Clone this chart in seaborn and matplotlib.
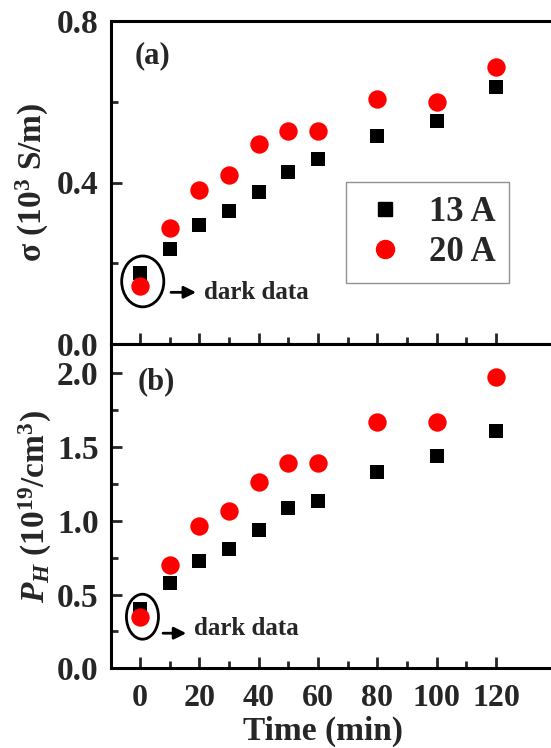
import matplotlib
matplotlib.use("Agg")
import matplotlib.pyplot as plt
import seaborn as sns
import pandas as pd
from matplotlib.patches import Ellipse
from matplotlib.lines import Line2D
from matplotlib.ticker import MultipleLocator, FixedLocator, FormatStrFormatter

time = [0, 10, 20, 30, 40, 50, 60, 80, 100, 120]
sigma_13 = [0.177, 0.235, 0.294, 0.329, 0.376, 0.426, 0.457, 0.515, 0.552, 0.636]
sigma_20 = [0.144, 0.288, 0.381, 0.419, 0.495, 0.528, 0.528, 0.606, 0.599, 0.686]
ph_13 = [0.40, 0.576, 0.730, 0.809, 0.938, 1.089, 1.134, 1.331, 1.439, 1.609]
ph_20 = [0.35, 0.698, 0.965, 1.069, 1.265, 1.390, 1.392, 1.672, 1.672, 1.973]
series = ["13 A", "20 A"]
x_major = [0, 20, 40, 60, 80, 100, 120]
x_minor = [10, 30, 50, 70, 90, 110]

sns.set_theme(style="white")
plt.rcParams["font.family"] = ["Liberation Serif", "DejaVu Serif"]
plt.rcParams["font.weight"] = "bold"
plt.rcParams["mathtext.fontset"] = "custom"
plt.rcParams["mathtext.rm"] = "Liberation Serif:bold"
plt.rcParams["mathtext.bf"] = "Liberation Serif:bold"
plt.rcParams["mathtext.it"] = "Liberation Serif:bold:italic"

W, H = 551, 748
fig = plt.figure(figsize=(W / 100, H / 100), dpi=100)
ax_left, ax_right = 111, 562
def fbox(top, bottom):
    return [ax_left / W, 1 - bottom / H, (ax_right - ax_left) / W, (bottom - top) / H]

ax1 = fig.add_axes(fbox(21, 344))
ax2 = fig.add_axes(fbox(344, 668.3))

df1 = pd.DataFrame({"t": time * 2, "v": sigma_13 + sigma_20,
                    "s": [series[0]] * len(time) + [series[1]] * len(time)})
df2 = pd.DataFrame({"t": time * 2, "v": ph_13 + ph_20,
                    "s": [series[0]] * len(time) + [series[1]] * len(time)})

for ax, df in [(ax1, df1), (ax2, df2)]:
    sns.scatterplot(data=df[df.s == series[0]], x="t", y="v", ax=ax, marker="s",
                    color="black", s=110, linewidth=0, legend=False, zorder=3)
    sns.scatterplot(data=df[df.s == series[1]], x="t", y="v", ax=ax, marker="o",
                    color="#ff0000", s=175, linewidth=0, legend=False, zorder=4)
    ax.set_xlim(-9.8, 142.2)
    ax.xaxis.set_major_locator(FixedLocator(x_major))
    ax.xaxis.set_minor_locator(FixedLocator(x_minor))
    ax.tick_params(axis="both", which="major", direction="in", length=8, width=2,
                   labelsize=24, pad=9, left=True, bottom=True)
    ax.tick_params(axis="both", which="minor", direction="in", length=5, width=2,
                   left=True, bottom=True)
    for sp in ax.spines.values():
        sp.set_linewidth(2.2)
        sp.set_color("black")

ax1.set_ylim(0, 0.8)
ax1.yaxis.set_major_locator(MultipleLocator(0.4))
ax1.yaxis.set_minor_locator(MultipleLocator(0.2))
ax1.yaxis.set_major_formatter(FormatStrFormatter("%.1f"))
ax1.tick_params(axis="x", labelbottom=False)
ax1.set_xlabel("")
ax1.set_ylabel(r"σ (10$^3$ S/m)", fontsize=24, fontweight="bold", labelpad=4)

ax2.set_ylim(0, 2.2)
ax2.yaxis.set_major_locator(MultipleLocator(0.5))
ax2.yaxis.set_minor_locator(MultipleLocator(0.25))
ax2.yaxis.set_major_formatter(FormatStrFormatter("%.1f"))
ax2.tick_params(axis="x", which="major", pad=11, labelsize=23)
ax2.set_xlabel("Time (min)", fontsize=24, fontweight="bold", labelpad=0)
ax2.xaxis.set_label_coords(0.47, -0.145)
ax2.set_ylabel(r"$P_H$ (10$^{19}$/cm$^3$)", fontsize=24, fontweight="bold", labelpad=2)

for ax in (ax1, ax2):
    for lab in ax.get_xticklabels() + ax.get_yticklabels():
        lab.set_fontweight("bold")

ax1.text(0.053, 0.892, "(a)", transform=ax1.transAxes, fontsize=22, fontweight="bold",
         va="center", ha="left")
ax2.text(0.06, 0.883, "(b)", transform=ax2.transAxes, fontsize=22, fontweight="bold",
         va="center", ha="left")

# dark-data annotations
ax1.add_patch(Ellipse((0.9, 0.155), 14.2, 0.126, fill=False, lw=2, color="black", zorder=5))
ax1.annotate("", xy=(19.8, 0.128), xytext=(9.5, 0.128),
             arrowprops=dict(arrowstyle="-|>", color="black", lw=2, mutation_scale=18))
ax1.text(21.7, 0.128, "dark data", fontsize=18, fontweight="bold", va="center", ha="left")

ax2.add_patch(Ellipse((0.8, 0.35), 10.8, 0.305, fill=False, lw=2, color="black", zorder=5))
ax2.annotate("", xy=(16.5, 0.238), xytext=(6.8, 0.238),
             arrowprops=dict(arrowstyle="-|>", color="black", lw=2, mutation_scale=18))
ax2.text(18.2, 0.27, "dark data", fontsize=18, fontweight="bold", va="center", ha="left")

handles = [Line2D([], [], marker="s", color="black", linestyle="none", markersize=10.5),
           Line2D([], [], marker="o", color="#ff0000", linestyle="none", markersize=13)]
leg = ax1.legend(handles, series, loc="upper left", bbox_to_anchor=(0.52, 0.502),
                 borderaxespad=0, fancybox=False, frameon=True, handletextpad=0.5,
                 prop={"family": "Liberation Serif", "weight": "bold", "size": 25},
                 labelspacing=0.2, borderpad=0.4, handlelength=1.5)
leg.get_frame().set_edgecolor("#777777")
leg.get_frame().set_linewidth(1.0)

fig.savefig("out.png", dpi=100)
